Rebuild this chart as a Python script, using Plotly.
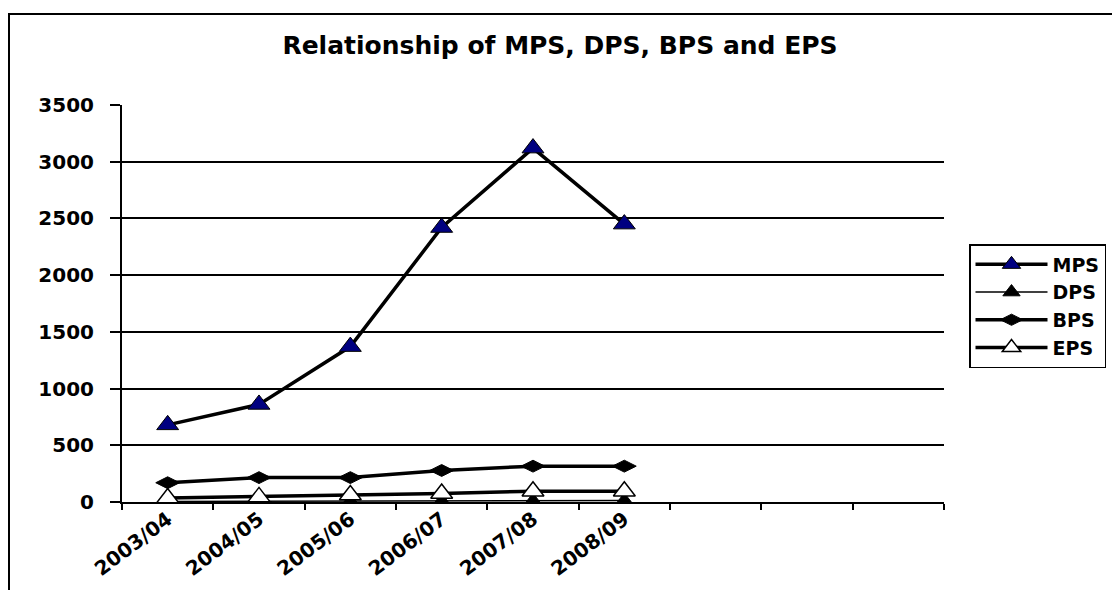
import plotly.graph_objects as go

categories = ["2003/04", "2004/05", "2005/06", "2006/07", "2007/08", "2008/09"]
empty_slots = [" ", "  ", "   "]
mps = [680, 860, 1370, 2420, 3120, 2450]
dps = [5, 6, 8, 10, 12, 14]
bps = [170, 215, 215, 278, 316, 316]
eps = [35, 45, 62, 75, 95, 95]
y_ticks = [0, 500, 1000, 1500, 2000, 2500, 3000, 3500]

FONT = "DejaVu Sans"
OFF = 8  # page body margin
W, H = 1120 - OFF, 590 - OFF
L, T = 122 - OFF, 105 - OFF
R = W - (944 - OFF)
B = H - (502 - OFF)
pw, ph = W - L - R, H - T - B


def px_x(x):
    return (x - OFF - L) / pw


def px_y(y):
    return (H - B - (y - OFF)) / ph


fig = go.Figure()
fig.add_trace(go.Scatter(
    x=categories, y=mps, name="MPS", mode="lines+markers",
    line=dict(color="black", width=3.5),
    marker=dict(symbol="triangle-up", size=19, color="#000080",
                line=dict(color="black", width=1))))
fig.add_trace(go.Scatter(
    x=categories, y=dps, name="DPS", mode="lines+markers",
    line=dict(color="black", width=1.5),
    marker=dict(symbol="triangle-up", size=15, color="black",
                line=dict(color="black", width=1))))
fig.add_trace(go.Scatter(
    x=categories, y=bps, name="BPS", mode="lines+markers",
    line=dict(color="black", width=3.5),
    marker=dict(symbol="diamond-wide", size=17, color="black",
                line=dict(color="black", width=1))))
fig.add_trace(go.Scatter(
    x=categories, y=eps, name="EPS", mode="lines+markers",
    line=dict(color="black", width=3.5),
    marker=dict(symbol="triangle-up", size=19, color="white",
                line=dict(color="black", width=1.5))))

fig.update_layout(
    width=W, height=H,
    margin=dict(l=L, r=R, t=T, b=B, autoexpand=False),
    paper_bgcolor="white", plot_bgcolor="white",
    font=dict(family=FONT, color="black", weight="bold"),
    title=dict(text="<b>Relationship of MPS, DPS, BPS and EPS</b>",
               x=(560 - OFF) / W, xref="container", xanchor="center",
               y=1 - (45 - OFF) / H, yref="container", yanchor="middle",
               font=dict(family=FONT, size=25, color="black")),
    xaxis=dict(type="category", categoryorder="array",
               categoryarray=categories + empty_slots,
               range=[-0.5, len(categories) + len(empty_slots) - 0.5],
               tickson="boundaries", ticks="outside", ticklen=6,
               tickwidth=1.5, tickcolor="black",
               showline=True, linecolor="black", linewidth=2,
               showgrid=False, zeroline=False, tickangle=-37,
               ticklabelstandoff=-4,
               tickfont=dict(family=FONT, size=20, color="black", weight="bold")),
    yaxis=dict(range=[0, 3500], tickvals=y_ticks, ticks="outside",
               ticklen=10, tickwidth=1.5, tickcolor="black",
               showline=True, linecolor="black", linewidth=2,
               showgrid=True, gridcolor="black", gridwidth=1.5,
               zeroline=False, ticklabelstandoff=12,
               tickfont=dict(family=FONT, size=20, color="black", weight="bold")),
    legend=dict(x=px_x(969), xanchor="left",
                y=px_y(244), yanchor="top",
                bgcolor="white", bordercolor="black", borderwidth=1.5,
                font=dict(family=FONT, size=19, color="black", weight="bold"),
                itemwidth=72, tracegroupgap=0),
    showlegend=True,
)

fig.add_shape(type="rect", xref="paper", yref="paper",
              x0=px_x(9), x1=px_x(1135),
              y0=px_y(14), y1=px_y(610),
              line=dict(color="black", width=2), fillcolor="rgba(0,0,0,0)",
              layer="above")

fig.write_html("out.html")
